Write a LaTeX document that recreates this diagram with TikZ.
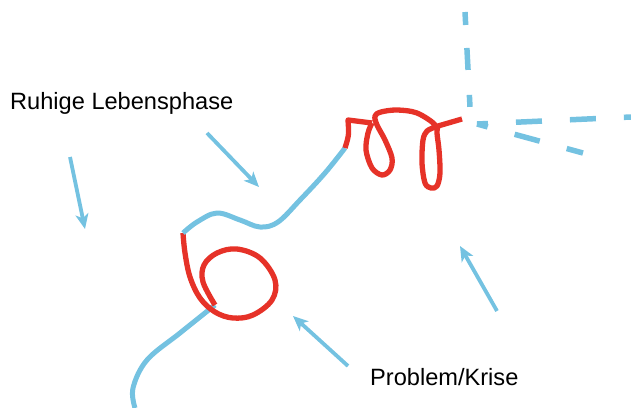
\documentclass[tikz,border=0pt]{standalone}
\usepackage{fontspec}
\setmainfont{Liberation Sans}
\usetikzlibrary{arrows.meta}
\definecolor{sky}{RGB}{116,194,225}
\definecolor{crisis}{RGB}{230,50,40}
\tikzset{
  calm/.style={draw=sky, line width=5pt, line cap=butt, line join=round},
  crisisline/.style={draw=crisis, line width=5.3pt, line cap=butt, line join=round},
  future/.style={draw=sky, line width=5.5pt, dash pattern=on 26pt off 28pt},
  pointer/.style={draw=sky, line width=3.8pt, -{Stealth[length=15pt,width=13pt,inset=4pt]}},
  label/.style={inner sep=0pt, anchor=base west, font=\fontsize{23.6}{28}\selectfont}
}
\begin{document}
\begin{tikzpicture}[x=1pt,y=-1pt]
\useasboundingbox (0,0) rectangle (631,407);
% coordinates
\coordinate (b0) at (135,408);
\coordinate (r1s) at (215,305);
\coordinate (r1e) at (183,233);
\coordinate (r2s) at (345,148);
\coordinate (j) at (477,124);
% blue lower
\path[calm] plot[smooth, tension=0.6] coordinates {(b0) (133,388) (147,360) (180,333) (r1s)};
% red loop 1
\path[crisisline] plot[smooth, tension=0.6] coordinates {(r1s) (203,282) (204,265) (217,253) (237,249) (260,258) (275,280) (272,300) (253,315) (233,318) (215,312) (200,298) (190,277) (185,253) (r1e)};
% blue upper
\path[calm] plot[smooth, tension=0.6] coordinates {(r1e) (197,222) (217,213) (240,220) (260,227) (278,222) (300,200) (325,173) (r2s)};
% red loops 2
\path[crisisline] (r2s) .. controls (349,135) .. (348,120) -- (372,123)
  plot[smooth, tension=0.55] coordinates {(372,123) (368,133) (366,150) (372,168) (382,175) (390,170) (392,158) (385,140) (377,125) (375,116) (381,112) (397,110) (417,113) (435,125) (427,131) (423,140) (422,163) (425,183) (431,188) (437,186) (440,173) (439,150) (437,133) (438,126)}
  -- (462,119);
% dashed futures
\path[future, dash pattern=on 13pt off 23pt on 22pt off 25pt on 12pt off 20pt] (465,12) -- (470,107);
\path[future, dash phase=15pt] (j) -- (631,117);
\path[future, dash phase=15pt] (j) -- (583,153);
% arrows
\coordinate (a1s) at (70,157); \coordinate (a1e) at (85,229);
\coordinate (a2s) at (207,133); \coordinate (a2e) at (259,187);
\coordinate (a3s) at (348,366); \coordinate (a3e) at (293,316);
\coordinate (a4s) at (497,311); \coordinate (a4e) at (460,246);
\draw[pointer] (a1s) -- (a1e);
\draw[pointer] (a2s) -- (a2e);
\draw[pointer] (a3s) -- (a3e);
\draw[pointer] (a4s) -- (a4e);
% labels
\node[label] (calmtext) at (10,109) {Ruhige Lebensphase};
\node[label] (crisistext) at (370,385) {Problem/Krise};
\end{tikzpicture}
\end{document}
